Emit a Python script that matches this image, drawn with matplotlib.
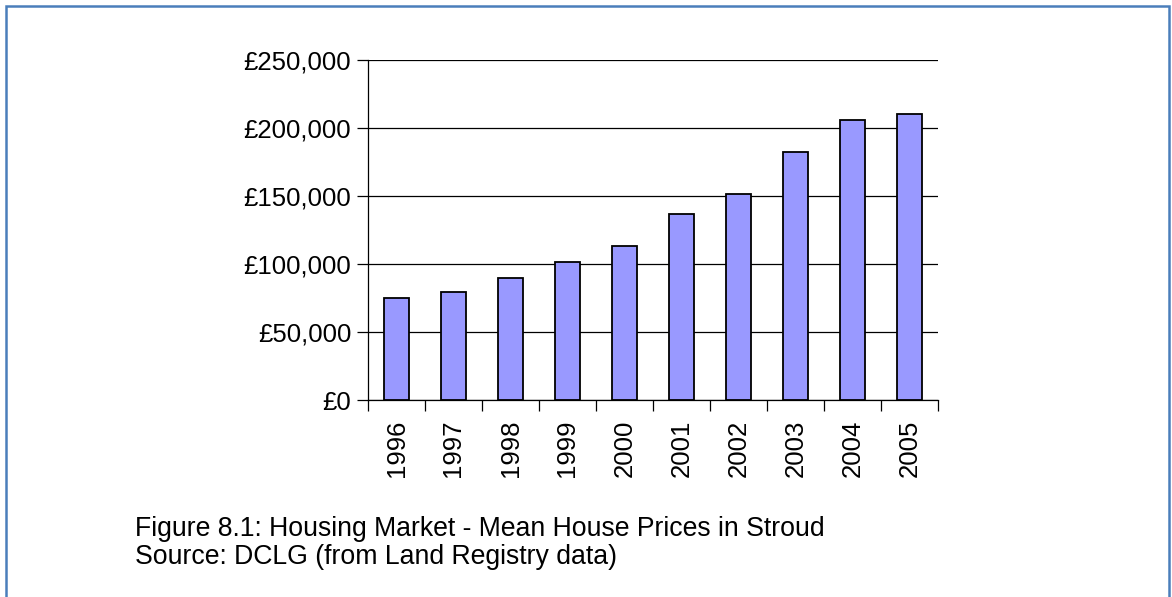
import matplotlib
matplotlib.use("Agg")
import matplotlib.pyplot as plt
from matplotlib.patches import Rectangle
from matplotlib.ticker import FuncFormatter
import numpy as np

plt.rcParams['font.family'] = ['Liberation Sans', 'DejaVu Sans']

# mean house prices in Stroud
years = ['1996', '1997', '1998', '1999', '2000', '2001', '2002', '2003', '2004', '2005']
prices = [75000, 79400, 89700, 101500, 113000, 136800, 151500, 182300, 205900, 210300]
yticks = [0, 50000, 100000, 150000, 200000, 250000]
caption = ['Figure 8.1: Housing Market - Mean House Prices in Stroud',
           'Source: DCLG (from Land Registry data)']

fig = plt.figure(figsize=(11.72, 5.97), dpi=100)

# blue frame round the figure
fig.patches.append(Rectangle((6 / 1172, -0.01), 1163 / 1172, 1 - 6 / 597 + 0.01,
                             transform=fig.transFigure, fill=False,
                             edgecolor='#4a7ebb', linewidth=1.8))

ax = fig.add_axes([368 / 1172, 1 - 400 / 597, 570 / 1172, 340 / 597])

x = np.arange(len(years))
ax.bar(x, prices, width=0.43, color='#9999ff', edgecolor='black', linewidth=1.3, zorder=3)

ax.set_xlim(-0.5, len(years) - 0.5)
ax.set_ylim(0, 250000)
ax.set_yticks(yticks)
ax.yaxis.set_major_formatter(FuncFormatter(lambda v, p: '£{:,.0f}'.format(v)))
ax.grid(axis='y', color='black', linewidth=0.9, zorder=0)

# ticks at the category boundaries, labels in the middle
ax.set_xticks(np.arange(len(years) + 1) - 0.5)
ax.set_xticklabels([])
ax.set_xticks(x, minor=True)
ax.set_xticklabels(years, minor=True, rotation=90, fontsize=18.5)
ax.tick_params(axis='x', which='major', direction='out', length=8, width=0.9)
ax.tick_params(axis='x', which='minor', length=0, pad=14)
ax.tick_params(axis='y', direction='out', length=8, width=0.9, labelsize=18.5, pad=4)

for s in ['top', 'right']:
    ax.spines[s].set_visible(False)
for s in ['left', 'bottom']:
    ax.spines[s].set_linewidth(0.9)

fig.text(135 / 1172, 1 - 536 / 597, caption[0], fontsize=19.2, va='baseline')
fig.text(135 / 1172, 1 - 564 / 597, caption[1], fontsize=19.2, va='baseline')

fig.savefig('out.png', dpi=100)
